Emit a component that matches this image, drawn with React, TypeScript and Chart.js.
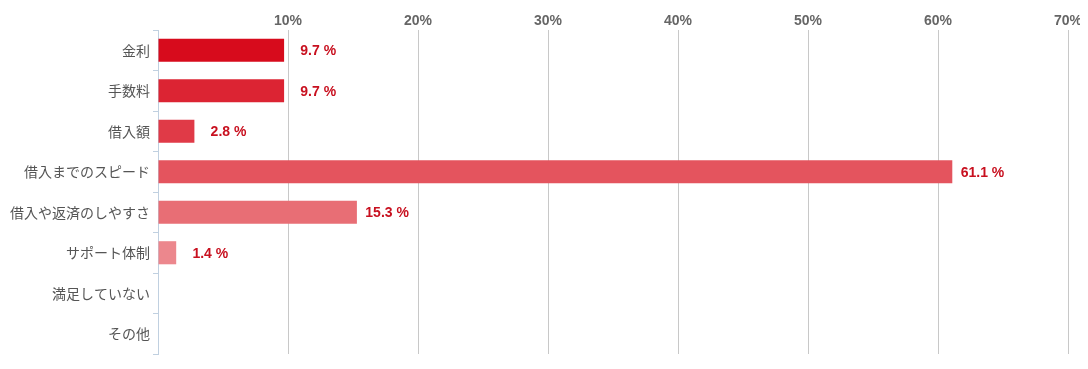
import React, { useEffect, useRef } from "react";
import { Chart, registerables } from "chart.js";

Chart.register(...registerables);

const categories = [
  "金利",
  "手数料",
  "借入額",
  "借入までのスピード",
  "借入や返済のしやすさ",
  "サポート体制",
  "満足していない",
  "その他",
];
const values = [9.7, 9.7, 2.8, 61.1, 15.3, 1.4, 0, 0];
const barColors = ["#d70b1c", "#dc2433", "#e03a47", "#e4545e", "#e86e75", "#ec878d", "#f0a0a5", "#f4b9bc"];
const xTicks = [0, 10, 20, 30, 40, 50, 60, 70];

const valueLabels = {
  id: "valueLabels",
  afterDatasetsDraw(chart: any) {
    const ctx = chart.ctx;
    const meta = chart.getDatasetMeta(0);
    ctx.save();
    ctx.font = "bold 14px Arial, 'Liberation Sans', sans-serif";
    ctx.fillStyle = "#c8101f";
    ctx.textAlign = "right";
    ctx.textBaseline = "middle";
    meta.data.forEach((bar: any, i: number) => {
      const v = values[i];
      if (!v) return;
      ctx.fillText(v.toFixed(1) + " %", bar.x + 52, bar.y + 1);
    });
    ctx.restore();
  },
};

export default function App() {
  const ref = useRef<HTMLCanvasElement | null>(null);
  useEffect(() => {
    if (!ref.current) return;
    const chart = new Chart(ref.current, {
      type: "bar",
      data: {
        labels: categories,
        datasets: [
          {
            data: values,
            backgroundColor: barColors,
            borderWidth: 0,
            barPercentage: 0.57,
            categoryPercentage: 1,
          },
        ],
      },
      options: {
        indexAxis: "y",
        animation: false,
        responsive: true,
        maintainAspectRatio: false,
        layout: { padding: { left: 0, right: 12, top: 0, bottom: 7 } },
        plugins: { legend: { display: false }, tooltip: { enabled: false } },
        scales: {
          x: {
            position: "top",
            min: 0,
            max: 70,
            afterBuildTicks: (scale: any) => {
              scale.ticks = xTicks.map((v) => ({ value: v }));
            },
            afterFit: (scale: any) => {
              scale.height = 22;
              scale.paddingLeft = 0;
              scale.paddingRight = 0;
              scale.paddingTop = 0;
              scale.paddingBottom = 0;
            },
            border: { display: false },
            grid: {
              drawTicks: false,
              color: (c: any) => (c.tick && c.tick.value === 0 ? "rgba(0,0,0,0)" : "#c8c8c8"),
              lineWidth: 1,
            },
            ticks: {
              padding: 0,
              color: "#666666",
              font: { family: "Arial, 'Liberation Sans', sans-serif", size: 14, weight: "bold" },
              callback: (v: any) => (v === 0 ? "" : v + "%"),
            },
          },
          y: {
            afterFit: (scale: any) => {
              scale.width = 150;
              scale.paddingTop = 0;
              scale.paddingBottom = 0;
              scale.paddingLeft = 0;
              scale.paddingRight = 0;
            },
            offset: true,
            border: { display: true, color: "#c0d0e0", width: 1 },
            grid: {
              offset: true,
              drawOnChartArea: false,
              tickLength: 5,
              color: "#c0d0e0",
            },
            ticks: {
              padding: 3,
              color: "#555555",
              font: { family: "'Noto Sans CJK JP', sans-serif", size: 14 },
            },
          },
        },
      },
      plugins: [valueLabels],
    });
    return () => chart.destroy();
  }, []);
  return (
    <div style={{ width: 1072, height: 353, position: "relative" }}>
      <canvas ref={ref} />
    </div>
  );
}
